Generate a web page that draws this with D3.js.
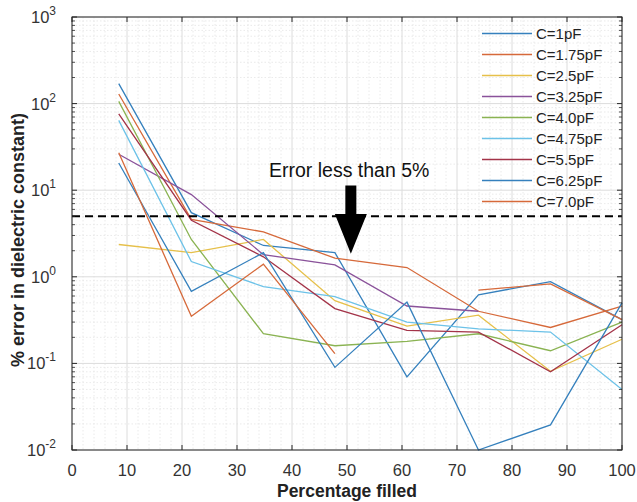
<html>
<head>
<style>
  body { margin: 0; background: #fff; }
  svg { font-family: Arial, "Liberation Sans", Helvetica, sans-serif; }
  .grid-major line { stroke: #dcdcdc; stroke-width: 1; }
  .grid-minor line { stroke: #e4e4e4; stroke-width: 0.8; stroke-dasharray: 1.5 2; }
</style>
</head>
<body>
<svg width="637" height="502"></svg>
<script src="https://d3js.org/d3.v7.min.js"></script>
<script>
// percentage filled (x positions)
let filled = [8.5, 21.7, 34.8, 47.8, 60.9, 73.9, 87.0, 100];

let labels = ["C=1pF", "C=1.75pF", "C=2.5pF", "C=3.25pF", "C=4.0pF", "C=4.75pF", "C=5.5pF", "C=6.25pF", "C=7.0pF"];

// % error values, null = missing point
let c1    = [170, 5.5, 2.3, 1.9, 0.07, 0.62, 0.88, 0.32];
let c175  = [129, 4.6, 3.3, 1.64, 1.28, 0.40, 0.26, 0.46];
let c25   = [2.36, 1.9, 2.7, 0.53, 0.27, 0.36, 0.081, 0.19];
let c325  = [26, 8.9, 1.8, 1.37, 0.46, 0.40, null, null];
let c40   = [106, 2.7, 0.22, 0.16, 0.18, 0.22, 0.14, 0.30];
let c475  = [64, 1.5, 0.77, 0.59, 0.30, 0.25, 0.23, 0.05];
let c55   = [76, 4.5, 1.7, 0.43, 0.24, 0.23, 0.08, 0.28];
let c625  = [20.6, 0.68, 1.9, 0.09, 0.51, 0.01, 0.0195, 0.50];
let c70   = [27, 0.35, 1.4, 0.13, null, 0.70, 0.83, 0.32];

let series = [c1, c175, c25, c325, c40, c475, c55, c625, c70];
let colors = ["#3580bd", "#d6693a", "#e6c04a", "#8a529a", "#8ab352", "#6cc2e8", "#a33348", "#3580bd", "#d6693a"];

let threshold = 5;
let xTicks = d3.range(0, 101, 10);
let yDecades = [1e-2, 1e-1, 1e0, 1e1, 1e2, 1e3];

let svg = d3.select("svg");
let pLeft = 72, pRight = 622, pTop = 17, pBottom = 450;

let x = d3.scaleLinear().domain([0, 100]).range([pLeft, pRight]);
let y = d3.scaleLog().domain([1e-2, 1e3]).range([pBottom, pTop]);

// minor grid
let minorX = d3.range(0, 101, 2).filter(v => v % 10 != 0);
let minorY = [];
yDecades.slice(0, -1).forEach(d => { for (let k = 2; k < 10; k++) minorY.push(d * k); });

let gm = svg.append("g").attr("class", "grid-minor");
gm.selectAll(".mx").data(minorX).enter().append("line")
  .attr("x1", d => x(d)).attr("x2", d => x(d)).attr("y1", pTop).attr("y2", pBottom);
gm.selectAll(".my").data(minorY).enter().append("line")
  .attr("y1", d => y(d)).attr("y2", d => y(d)).attr("x1", pLeft).attr("x2", pRight);

// major grid
let gM = svg.append("g").attr("class", "grid-major");
gM.selectAll(".Mx").data(xTicks).enter().append("line")
  .attr("x1", d => x(d)).attr("x2", d => x(d)).attr("y1", pTop).attr("y2", pBottom);
gM.selectAll(".My").data(yDecades).enter().append("line")
  .attr("y1", d => y(d)).attr("y2", d => y(d)).attr("x1", pLeft).attr("x2", pRight);

// data lines
let line = d3.line()
  .defined(d => d[1] != null)
  .x(d => x(d[0]))
  .y(d => y(d[1]));

series.forEach((s, i) => {
  svg.append("path")
    .datum(filled.map((f, j) => [f, s[j]]))
    .attr("d", line)
    .attr("fill", "none")
    .attr("stroke", colors[i])
    .attr("stroke-width", 1.3);
});

// 5% threshold
svg.append("line")
  .attr("x1", x(0)).attr("x2", x(100))
  .attr("y1", y(threshold)).attr("y2", y(threshold))
  .attr("stroke", "#000").attr("stroke-width", 2.2)
  .attr("stroke-dasharray", "8 5");

// arrow
let ax = x(50.7), aTop = y(11.3), aTip = y(1.84), aNeck = y(5.3);
svg.append("path")
  .attr("d", `M${ax - 5.5},${aTop} L${ax + 5.5},${aTop} L${ax + 5.5},${aNeck} L${ax + 16},${aNeck} L${ax},${aTip} L${ax - 16},${aNeck} L${ax - 5.5},${aNeck} Z`)
  .attr("fill", "#000");

svg.append("text")
  .attr("x", 269).attr("y", 177)
  .attr("font-size", 19.5).attr("fill", "#111")
  .text("Error less than 5%");

// axes box
let axis = svg.append("g");
axis.append("rect")
  .attr("x", pLeft).attr("y", pTop).attr("width", pRight - pLeft).attr("height", pBottom - pTop)
  .attr("fill", "none").attr("stroke", "#262626").attr("stroke-width", 1);

axis.selectAll(".tx").data(xTicks).enter().append("path")
  .attr("d", d => `M${x(d)},${pBottom}v-5M${x(d)},${pTop}v5`)
  .attr("stroke", "#262626");

axis.selectAll(".ty").data(yDecades).enter().append("path")
  .attr("d", d => `M${pLeft},${y(d)}h5M${pRight},${y(d)}h-5`)
  .attr("stroke", "#262626");

axis.selectAll(".tym").data(minorY).enter().append("path")
  .attr("d", d => `M${pLeft},${y(d)}h3M${pRight},${y(d)}h-3`)
  .attr("stroke", "#262626").attr("stroke-width", 0.8);

axis.selectAll(".lx").data(xTicks).enter().append("text")
  .attr("x", d => x(d)).attr("y", pBottom + 26)
  .attr("text-anchor", "middle").attr("font-size", 16.5).attr("fill", "#333")
  .text(d => d);

let ly = axis.selectAll(".ly").data(yDecades).enter().append("text")
  .attr("x", pLeft - 16).attr("y", d => y(d) + 6)
  .attr("text-anchor", "end").attr("font-size", 16.5).attr("fill", "#333");
ly.append("tspan").text("10");
ly.append("tspan").attr("dy", -8).attr("font-size", 12).text(d => Math.round(Math.log10(d)));

svg.append("text")
  .attr("x", (pLeft + pRight) / 2).attr("y", 497)
  .attr("text-anchor", "middle").attr("font-size", 17.5).attr("font-weight", "bold").attr("fill", "#222")
  .text("Percentage filled");

svg.append("text")
  .attr("transform", `translate(24,240) rotate(-90)`)
  .attr("text-anchor", "middle").attr("font-size", 18).attr("font-weight", "bold").attr("fill", "#222")
  .text("% error in dielectric constant)");

// legend
let legend = svg.append("g");
labels.forEach((l, i) => {
  let ypos = 33.5 + i * 21;
  legend.append("line")
    .attr("x1", 482).attr("x2", 532).attr("y1", ypos).attr("y2", ypos)
    .attr("stroke", colors[i]).attr("stroke-width", 1.3);
  legend.append("text")
    .attr("x", 536).attr("y", ypos + 5.5)
    .attr("font-size", 15).attr("fill", "#222")
    .text(l);
});
</script>
</body>
</html>
